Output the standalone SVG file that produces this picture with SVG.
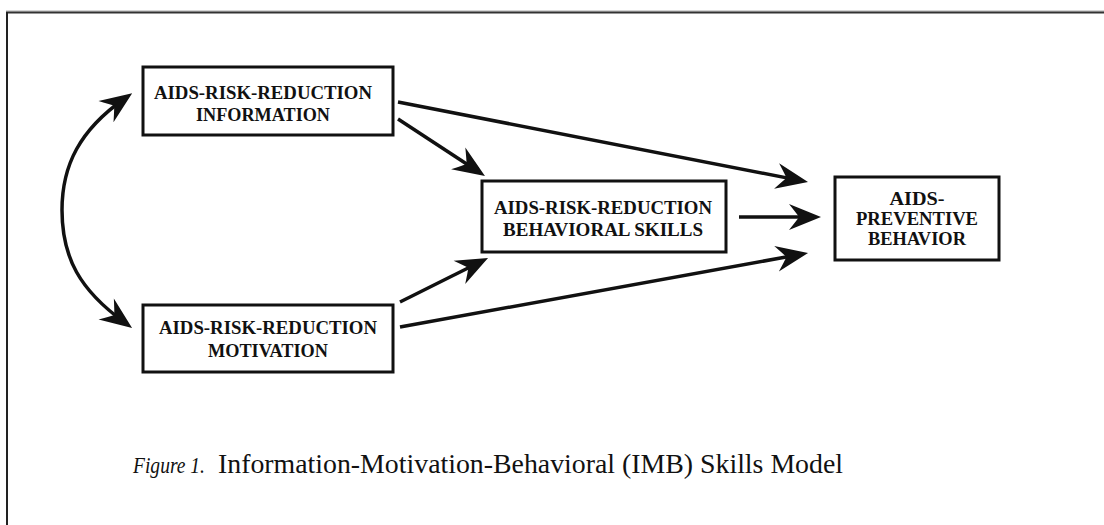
<svg xmlns="http://www.w3.org/2000/svg" width="1104" height="525" viewBox="0 0 1104 525">
<style>
.box{fill:#fff;stroke:#111;stroke-width:3}
.lbl{font-family:"Liberation Serif","DejaVu Serif",serif;font-weight:bold;font-size:19px;fill:#111;text-anchor:middle}
.conn{fill:none;stroke:#111;stroke-width:3.5}
.cap{font-family:"Liberation Serif","Times New Roman",serif;font-size:27px;fill:#111}
.capi{font-family:"Liberation Serif","Times New Roman",serif;font-size:23px;font-style:italic;fill:#111}
</style>
<defs>
<marker id="ah" markerUnits="userSpaceOnUse" markerWidth="50" markerHeight="40" viewBox="-30 -20 50 40" refX="0" refY="0" orient="auto-start-reverse" overflow="visible">
<path d="M10,0 L-22,-13 Q-14,-3 -12,0 Q-14,3 -22,13 Z" fill="#111"/>
</marker>
</defs>
<rect x="0" y="0" width="1104" height="525" fill="#fff"/>
<g id="frame">
<line x1="6" y1="11" x2="1104" y2="11" stroke="#aaa" stroke-width="1"/>
<line x1="6" y1="12.5" x2="1104" y2="12.5" stroke="#333" stroke-width="2"/>
<line x1="7" y1="12" x2="7" y2="525" stroke="#222" stroke-width="2"/>
</g>
<g id="connectors">
<path class="conn" d="M124,99 C80,130 62,165 62,210 C62,258 80,290 124,322" marker-start="url(#ah)" marker-end="url(#ah)"/>
<line class="conn" x1="398" y1="102" x2="798.2" y2="180.1" marker-end="url(#ah)"/>
<line class="conn" x1="398" y1="119" x2="476.6" y2="170.5" marker-end="url(#ah)"/>
<line class="conn" x1="739" y1="217" x2="811" y2="217" marker-end="url(#ah)"/>
<line class="conn" x1="400" y1="302" x2="479.1" y2="262.5" marker-end="url(#ah)"/>
<line class="conn" x1="400" y1="327" x2="798.2" y2="254.8" marker-end="url(#ah)"/>
</g>
<g id="node-information">
<rect class="box" x="143" y="67" width="250" height="68"/>
<text class="lbl" x="263" y="99" textLength="218" lengthAdjust="spacingAndGlyphs">AIDS-RISK-REDUCTION</text>
<text class="lbl" x="263" y="121" textLength="134" lengthAdjust="spacingAndGlyphs">INFORMATION</text>
</g>
<g id="node-motivation">
<rect class="box" x="143" y="305" width="250" height="67"/>
<text class="lbl" x="268" y="334" textLength="218" lengthAdjust="spacingAndGlyphs">AIDS-RISK-REDUCTION</text>
<text class="lbl" x="268" y="357" textLength="120" lengthAdjust="spacingAndGlyphs">MOTIVATION</text>
</g>
<g id="node-skills">
<rect class="box" x="482" y="181" width="244" height="71"/>
<text class="lbl" x="603" y="214" textLength="218" lengthAdjust="spacingAndGlyphs">AIDS-RISK-REDUCTION</text>
<text class="lbl" x="603" y="236" textLength="200" lengthAdjust="spacingAndGlyphs">BEHAVIORAL SKILLS</text>
</g>
<g id="node-behavior">
<rect class="box" x="835" y="177" width="164" height="83"/>
<text class="lbl" x="917" y="205" textLength="55" lengthAdjust="spacingAndGlyphs">AIDS-</text>
<text class="lbl" x="917" y="225" textLength="122" lengthAdjust="spacingAndGlyphs">PREVENTIVE</text>
<text class="lbl" x="917" y="245" textLength="98" lengthAdjust="spacingAndGlyphs">BEHAVIOR</text>
</g>
<g id="caption">
<text class="capi" x="133" y="473" textLength="72" lengthAdjust="spacingAndGlyphs">Figure 1.</text>
<text class="cap" x="218" y="473" textLength="625" lengthAdjust="spacingAndGlyphs">Information-Motivation-Behavioral (IMB) Skills Model</text>
</g>
</svg>
